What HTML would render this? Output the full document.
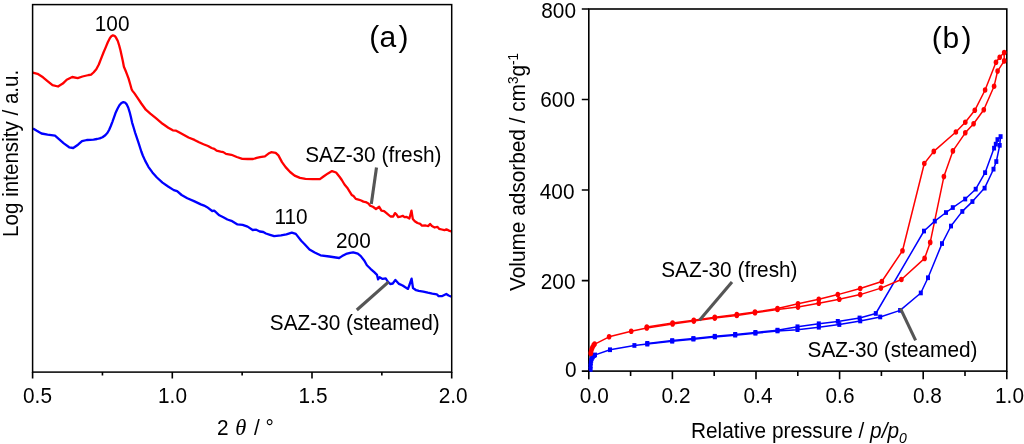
<!DOCTYPE html>
<html><head><meta charset="utf-8"><style>
html,body{margin:0;padding:0;background:#fff;}
svg{display:block;will-change:transform;}
text{font-family:"Liberation Sans",sans-serif;fill:#000;}
</style></head><body>
<svg width="1024" height="444" viewBox="0 0 1024 444">
<rect width="1024" height="444" fill="#fff"/>
<!-- plot a -->
<polyline points="32.8,72.6 37.5,73.8 43.0,77.3 47.8,81.3 52.5,85.2 58.0,86.5 62.8,83.6 66.7,79.7 72.2,77.0 77.7,78.1 82.5,76.5 88.8,75.0 91.1,74.6 93.5,72.5 96.3,69.2 98.8,64.5 101.0,58.9 103.5,52.5 105.8,47.1 107.8,42.2 109.7,38.4 111.3,36.2 112.9,35.4 114.5,35.8 116.0,37.6 117.8,41.0 119.2,45.5 120.4,50.0 121.5,55.0 122.8,61.0 123.9,66.8 125.5,70.5 127.0,74.3 128.6,78.6 130.3,84.5 131.6,89.2 132.3,90.6 134.5,93.4 137.9,98.4 141.3,103.5 145.8,109.7 150.3,113.6 155.9,118.1 162.6,123.8 168.3,127.7 172.8,130.3 176.1,130.7 179.5,132.5 184.0,135.0 188.5,137.5 194.5,139.9 199.0,142.2 203.5,144.2 208.0,146.0 211.6,148.0 214.3,148.9 216.6,150.7 220.6,151.6 223.3,152.1 226.0,153.9 231.4,154.8 236.8,157.0 242.3,158.8 247.7,159.0 253.1,159.0 256.7,157.9 260.0,157.2 264.9,156.3 268.5,153.6 271.2,152.2 275.7,152.9 278.4,155.4 282.0,162.1 285.6,167.1 290.1,172.0 294.6,175.6 300.0,177.9 305.5,178.8 312.7,179.2 319.9,179.1 323.5,176.5 328.0,173.4 332.0,171.1 336.1,172.5 339.7,177.0 341.8,180.0 344.5,184.5 347.2,187.7 349.5,191.3 351.7,194.9 353.5,196.0 355.8,198.9 358.5,199.6 361.2,200.5 363.4,201.6 365.7,202.1 368.4,203.6 370.2,205.7 372.9,206.8 376.0,209.0 379.2,206.8 381.4,210.6 384.1,211.1 386.8,213.3 390.5,216.5 393.2,216.5 395.0,213.1 396.4,214.4 398.2,217.1 400.4,216.7 402.7,215.8 404.5,217.1 406.7,216.9 409.4,218.5 411.5,210.6 412.8,218.9 414.8,221.2 417.5,223.0 420.2,223.9 422.0,225.7 425.6,225.5 428.3,226.1 430.1,223.9 431.9,226.1 434.6,227.5 437.3,226.8 439.1,228.8 441.8,229.5 444.5,230.2 446.4,229.3 449.0,230.6 451.3,231.5" fill="none" stroke="#ff0000" stroke-width="2.3" stroke-linejoin="round"/>
<polyline points="33.0,128.5 36.8,130.8 41.5,133.5 47.6,134.6 55.0,135.7 58.4,138.6 63.8,143.4 69.2,147.3 73.2,148.0 78.0,144.7 82.0,141.1 86.8,140.0 93.5,139.6 97.0,139.0 99.7,138.4 102.5,137.2 105.3,135.2 107.5,132.8 109.2,129.7 110.8,126.0 112.4,121.8 114.0,117.3 115.5,113.1 117.5,108.8 119.4,105.3 121.4,103.0 123.4,102.1 125.0,102.5 126.5,104.1 128.2,107.5 129.7,112.3 131.0,117.5 132.1,122.6 133.6,127.5 135.2,132.8 138.4,142.3 141.3,151.5 142.8,155.5 145.1,160.6 148.4,166.8 152.4,172.4 156.9,177.5 162.5,182.6 168.1,186.5 173.8,190.1 177.1,191.2 181.6,195.0 187.3,198.3 194.0,201.1 200.8,204.4 204.1,205.6 207.1,207.2 212.2,211.0 214.2,210.7 219.3,215.3 223.3,217.3 227.4,219.5 231.4,220.8 237.5,224.4 242.6,224.9 247.6,226.6 252.7,230.0 256.2,229.7 259.8,231.5 263.3,232.0 265.9,233.5 270.0,234.8 274.2,236.2 281.0,235.3 286.4,234.3 291.8,232.6 295.8,233.9 301.2,240.7 304.4,244.0 309.5,249.6 314.7,252.5 320.5,255.3 329.3,256.5 339.1,258.0 342.1,256.1 346.1,253.9 350.2,252.9 353.2,252.3 357.8,253.6 360.8,256.1 364.4,260.7 366.9,265.3 370.5,268.8 374.5,272.4 377.0,274.9 378.1,279.4 379.6,277.2 382.6,278.9 385.7,278.4 387.7,281.5 390.2,284.0 392.8,283.5 395.4,279.9 399.0,283.9 402.6,285.5 405.3,287.3 408.0,288.9 409.6,284.5 411.6,278.7 413.0,288.0 416.1,290.2 418.8,290.9 423.3,291.6 427.8,292.7 432.3,293.6 436.8,294.3 438.6,296.1 442.3,296.1 446.3,294.0 448.6,295.5 451.5,296.7" fill="none" stroke="#0000ff" stroke-width="2.3" stroke-linejoin="round"/>
<rect x="32.6" y="4.6" width="419.1" height="367.5" fill="none" stroke="#000" stroke-width="1.5"/>
<!-- plot b data -->
<rect x="588.8" y="9.0" width="418.0" height="362.1" fill="none" stroke="#000" stroke-width="1.6"/>
<g fill="none" stroke-width="1.5" stroke-linejoin="round">
<polyline points="590.0,371.0 590.3,364.0 590.8,360.0 591.6,357.5 593.8,355.4 610.0,349.8 634.4,345.5 647.3,344.1 672.2,341.3 693.4,339.2 714.8,337.0 735.2,335.2 755.4,333.3 777.5,331.0 797.5,329.7 818.8,327.3 839.3,324.6 860.2,321.0 880.2,317.0 900.1,310.4 920.8,293.0 928.0,277.8 942.0,243.6 951.0,226.0 962.3,211.4 972.4,201.6 984.6,188.1 993.5,169.2 996.3,161.6 999.7,145.3 1000.6,136.6" stroke="#0000ff"/>
<polyline points="1000.6,136.6 997.5,139.6 995.8,144.1 994.1,148.1 985.1,172.7 975.7,189.2 965.2,199.0 952.8,207.6 946.0,212.5 934.8,221.1 924.0,231.0 875.8,313.5 859.6,318.0 837.8,321.4 818.8,323.8 797.5,326.8 777.5,330.2 755.4,332.4 735.2,334.4 714.8,336.3 693.4,338.5 672.2,340.6 647.3,343.4" stroke="#0000ff"/>
<polyline points="590.2,356.0 590.8,351.5 592.0,347.5 593.4,344.8 609.1,336.8 631.2,331.3 646.8,327.9 672.6,323.9 693.8,321.1 714.8,318.1 736.8,315.5 755.0,312.8 777.5,309.5 798.0,307.1 818.8,303.3 839.3,299.3 860.2,294.6 880.9,288.1 901.4,279.5 924.6,258.4 930.2,242.4 943.9,176.6 952.9,150.9 965.3,132.8 973.6,123.8 983.8,109.8 994.1,86.2 997.6,71.1 1004.2,60.9 1004.2,52.6" stroke="#ff0000"/>
<polyline points="1004.2,52.6 999.7,57.3 996.0,62.3 985.1,90.0 974.8,110.3 965.3,122.2 955.9,132.0 933.8,151.4 924.3,163.5 902.5,250.7 881.8,281.5 860.2,288.5 837.8,294.6 818.8,299.2 798.0,303.7 777.5,308.6 755.0,312.0 736.8,314.6 714.8,317.3 693.8,320.3 672.6,323.0 646.8,327.0" stroke="#ff0000"/>
</g>
<g fill="#0000ff"><rect x="588.6" y="367.1" width="4.0" height="4.7"/><rect x="588.6" y="363.6" width="4.0" height="4.7"/><rect x="588.8" y="360.6" width="4.0" height="4.7"/><rect x="589.2" y="358.1" width="4.0" height="4.7"/><rect x="589.8" y="356.1" width="4.0" height="4.7"/><rect x="590.8" y="354.6" width="4.0" height="4.7"/><rect x="592.0" y="353.2" width="4.0" height="4.7"/><rect x="593.0" y="352.6" width="4.0" height="4.7"/><rect x="608.0" y="347.4" width="4.0" height="4.7"/><rect x="632.4" y="343.1" width="4.0" height="4.7"/><rect x="645.3" y="341.8" width="4.0" height="4.7"/><rect x="670.2" y="338.9" width="4.0" height="4.7"/><rect x="691.4" y="336.8" width="4.0" height="4.7"/><rect x="712.8" y="334.6" width="4.0" height="4.7"/><rect x="733.2" y="332.8" width="4.0" height="4.7"/><rect x="753.4" y="330.9" width="4.0" height="4.7"/><rect x="775.5" y="328.6" width="4.0" height="4.7"/><rect x="795.5" y="327.3" width="4.0" height="4.7"/><rect x="816.8" y="324.9" width="4.0" height="4.7"/><rect x="837.3" y="322.2" width="4.0" height="4.7"/><rect x="858.2" y="318.6" width="4.0" height="4.7"/><rect x="878.2" y="314.6" width="4.0" height="4.7"/><rect x="898.1" y="308.0" width="4.0" height="4.7"/><rect x="918.8" y="290.6" width="4.0" height="4.7"/><rect x="926.0" y="275.4" width="4.0" height="4.7"/><rect x="940.0" y="241.2" width="4.0" height="4.7"/><rect x="949.0" y="223.7" width="4.0" height="4.7"/><rect x="960.3" y="209.1" width="4.0" height="4.7"/><rect x="970.4" y="199.2" width="4.0" height="4.7"/><rect x="982.6" y="185.8" width="4.0" height="4.7"/><rect x="991.5" y="166.8" width="4.0" height="4.7"/><rect x="994.3" y="159.2" width="4.0" height="4.7"/><rect x="997.7" y="143.0" width="4.0" height="4.7"/><rect x="998.6" y="134.2" width="4.0" height="4.7"/><rect x="995.5" y="137.2" width="4.0" height="4.7"/><rect x="993.8" y="141.8" width="4.0" height="4.7"/><rect x="992.1" y="145.8" width="4.0" height="4.7"/><rect x="983.1" y="170.3" width="4.0" height="4.7"/><rect x="973.7" y="186.8" width="4.0" height="4.7"/><rect x="963.2" y="196.7" width="4.0" height="4.7"/><rect x="950.8" y="205.2" width="4.0" height="4.7"/><rect x="944.0" y="210.2" width="4.0" height="4.7"/><rect x="932.8" y="218.8" width="4.0" height="4.7"/><rect x="922.0" y="228.7" width="4.0" height="4.7"/><rect x="873.8" y="311.1" width="4.0" height="4.7"/><rect x="857.6" y="315.6" width="4.0" height="4.7"/><rect x="835.8" y="319.0" width="4.0" height="4.7"/><rect x="816.8" y="321.4" width="4.0" height="4.7"/><rect x="795.5" y="324.4" width="4.0" height="4.7"/><rect x="775.5" y="327.8" width="4.0" height="4.7"/><rect x="753.4" y="330.0" width="4.0" height="4.7"/><rect x="733.2" y="332.0" width="4.0" height="4.7"/><rect x="712.8" y="333.9" width="4.0" height="4.7"/><rect x="691.4" y="336.1" width="4.0" height="4.7"/><rect x="670.2" y="338.2" width="4.0" height="4.7"/><rect x="645.3" y="341.0" width="4.0" height="4.7"/></g>
<g fill="#ff0000"><ellipse cx="590.8" cy="353.5" rx="2.3" ry="2.8"/><ellipse cx="591.0" cy="352.0" rx="2.3" ry="2.8"/><ellipse cx="591.6" cy="349.5" rx="2.3" ry="2.8"/><ellipse cx="592.4" cy="347.5" rx="2.3" ry="2.8"/><ellipse cx="593.6" cy="345.3" rx="2.3" ry="2.8"/><ellipse cx="594.6" cy="344.0" rx="2.3" ry="2.8"/><ellipse cx="609.1" cy="336.8" rx="2.3" ry="2.8"/><ellipse cx="631.2" cy="331.3" rx="2.3" ry="2.8"/><ellipse cx="646.8" cy="327.9" rx="2.3" ry="2.8"/><ellipse cx="672.6" cy="323.9" rx="2.3" ry="2.8"/><ellipse cx="693.8" cy="321.1" rx="2.3" ry="2.8"/><ellipse cx="714.8" cy="318.1" rx="2.3" ry="2.8"/><ellipse cx="736.8" cy="315.5" rx="2.3" ry="2.8"/><ellipse cx="755.0" cy="312.8" rx="2.3" ry="2.8"/><ellipse cx="777.5" cy="309.5" rx="2.3" ry="2.8"/><ellipse cx="798.0" cy="307.1" rx="2.3" ry="2.8"/><ellipse cx="818.8" cy="303.3" rx="2.3" ry="2.8"/><ellipse cx="839.3" cy="299.3" rx="2.3" ry="2.8"/><ellipse cx="860.2" cy="294.6" rx="2.3" ry="2.8"/><ellipse cx="880.9" cy="288.1" rx="2.3" ry="2.8"/><ellipse cx="901.4" cy="279.5" rx="2.3" ry="2.8"/><ellipse cx="924.6" cy="258.4" rx="2.3" ry="2.8"/><ellipse cx="930.2" cy="242.4" rx="2.3" ry="2.8"/><ellipse cx="943.9" cy="176.6" rx="2.3" ry="2.8"/><ellipse cx="952.9" cy="150.9" rx="2.3" ry="2.8"/><ellipse cx="965.3" cy="132.8" rx="2.3" ry="2.8"/><ellipse cx="973.6" cy="123.8" rx="2.3" ry="2.8"/><ellipse cx="983.8" cy="109.8" rx="2.3" ry="2.8"/><ellipse cx="994.1" cy="86.2" rx="2.3" ry="2.8"/><ellipse cx="997.6" cy="71.1" rx="2.3" ry="2.8"/><ellipse cx="1004.2" cy="60.9" rx="2.3" ry="2.8"/><ellipse cx="1004.2" cy="52.6" rx="2.3" ry="2.8"/><ellipse cx="999.7" cy="57.3" rx="2.3" ry="2.8"/><ellipse cx="996.0" cy="62.3" rx="2.3" ry="2.8"/><ellipse cx="985.1" cy="90.0" rx="2.3" ry="2.8"/><ellipse cx="974.8" cy="110.3" rx="2.3" ry="2.8"/><ellipse cx="965.3" cy="122.2" rx="2.3" ry="2.8"/><ellipse cx="955.9" cy="132.0" rx="2.3" ry="2.8"/><ellipse cx="933.8" cy="151.4" rx="2.3" ry="2.8"/><ellipse cx="924.3" cy="163.5" rx="2.3" ry="2.8"/><ellipse cx="902.5" cy="250.7" rx="2.3" ry="2.8"/><ellipse cx="881.8" cy="281.5" rx="2.3" ry="2.8"/><ellipse cx="860.2" cy="288.5" rx="2.3" ry="2.8"/><ellipse cx="837.8" cy="294.6" rx="2.3" ry="2.8"/><ellipse cx="818.8" cy="299.2" rx="2.3" ry="2.8"/><ellipse cx="798.0" cy="303.7" rx="2.3" ry="2.8"/><ellipse cx="777.5" cy="308.6" rx="2.3" ry="2.8"/><ellipse cx="755.0" cy="312.0" rx="2.3" ry="2.8"/><ellipse cx="736.8" cy="314.6" rx="2.3" ry="2.8"/><ellipse cx="714.8" cy="317.3" rx="2.3" ry="2.8"/><ellipse cx="693.8" cy="320.3" rx="2.3" ry="2.8"/><ellipse cx="672.6" cy="323.0" rx="2.3" ry="2.8"/><ellipse cx="646.8" cy="327.0" rx="2.3" ry="2.8"/></g>
<path d="M32.60,372.1 V378.6 M102.45,372.1 V375.6 M172.30,372.1 V378.6 M242.15,372.1 V375.6 M312.00,372.1 V378.6 M381.85,372.1 V375.6 M451.70,372.1 V378.6 M588.80,371.1 V379.3 M630.60,371.1 V375.90000000000003 M672.40,371.1 V379.3 M714.20,371.1 V375.90000000000003 M756.00,371.1 V379.3 M797.80,371.1 V375.90000000000003 M839.60,371.1 V379.3 M881.40,371.1 V375.90000000000003 M923.20,371.1 V379.3 M965.00,371.1 V375.90000000000003 M1006.80,371.1 V379.3 M588.8,371.10 H581.8 M588.8,280.58 H581.8 M588.8,190.05 H581.8 M588.8,99.52 H581.8 M588.8,9.00 H581.8" stroke="#000" stroke-width="1.6" fill="none"/>
<!-- leaders -->
<g stroke="#555" stroke-width="3.1" fill="none">
<line x1="376.5" y1="167.5" x2="371.3" y2="204"/>
<line x1="388.6" y1="281.8" x2="356.8" y2="310"/>
<line x1="732" y1="282.1" x2="699.5" y2="320.3"/>
<line x1="900.4" y1="308.4" x2="915.6" y2="340.4"/>
</g>
<!-- texts -->
<text transform="translate(94.8,31.0) scale(1,1.07)" font-size="20.8">100</text>
<text transform="translate(274.5,224.3) scale(1,1.07)" font-size="20.8">110</text>
<text transform="translate(336,248) scale(1,1.07)" font-size="20.8">200</text>
<text transform="translate(37.5,403.3) scale(1,1.07)" font-size="20.8" text-anchor="middle">0.5</text>
<text transform="translate(172.5,403.3) scale(1,1.07)" font-size="20.8" text-anchor="middle">1.0</text>
<text transform="translate(313,403.3) scale(1,1.07)" font-size="20.8" text-anchor="middle">1.5</text>
<text transform="translate(453.2,403.3) scale(1,1.07)" font-size="20.8" text-anchor="middle">2.0</text>
<text transform="translate(217,434.6) scale(1,1.07)" font-size="20.8">2</text>
<text transform="translate(235.2,434.6) scale(1,1.0)" font-size="22.5"><tspan font-family="Liberation Serif" font-style="italic">θ</tspan></text>
<text transform="translate(253.9,434.6) scale(1,1.07)" font-size="20.8">/ °</text>
<text transform="translate(305.2,161.7) scale(1,1.07)" font-size="20.8">SAZ-30 (fresh)</text>
<text transform="translate(269.8,330) scale(1,1.07)" font-size="20.8">SAZ-30 (steamed)</text>
<text transform="translate(661.2,276.7) scale(1,1.07)" font-size="20.8">SAZ-30 (fresh)</text>
<text transform="translate(807.6,357) scale(1,1.07)" font-size="20.8">SAZ-30 (steamed)</text>
<text transform="translate(18,236.9) rotate(-90) scale(1,1.07)" font-size="20.6">Log intensity / a.u.</text>
<text transform="translate(525.3,291) rotate(-90) scale(1,1.04)" font-size="20.8">Volume adsorbed / cm<tspan dy="-7" font-size="13.5">3</tspan><tspan dy="7">g</tspan><tspan dy="-7" font-size="13.5">-1</tspan></text>
<text transform="translate(691,437.5) scale(1,1.07)" font-size="20.8">Relative pressure / <tspan font-style="italic">p/p</tspan><tspan font-style="italic" font-size="14" dy="5">0</tspan></text>
<text transform="translate(369.3,47.4) scale(1,1.0)" font-size="30">(<tspan dx="0.3">a</tspan><tspan dx="2.2">)</tspan></text>
<text transform="translate(931.8,47.7) scale(1,1.0)" font-size="30">(<tspan dx="0.6">b</tspan><tspan dx="2.4">)</tspan></text>
<text transform="translate(576,18.2) scale(1,1.07)" font-size="20.8" text-anchor="end">800</text>
<text transform="translate(575,107) scale(1,1.07)" font-size="20.8" text-anchor="end">600</text>
<text transform="translate(574.5,199) scale(1,1.07)" font-size="20.8" text-anchor="end">400</text>
<text transform="translate(575.5,289.3) scale(1,1.07)" font-size="20.8" text-anchor="end">200</text>
<text transform="translate(576.5,376.6) scale(1,1.07)" font-size="20.8" text-anchor="end">0</text>
<text transform="translate(594.3,402.6) scale(1,1.07)" font-size="20.8" text-anchor="middle">0.0</text>
<text transform="translate(676,402.6) scale(1,1.07)" font-size="20.8" text-anchor="middle">0.2</text>
<text transform="translate(758,402.6) scale(1,1.07)" font-size="20.8" text-anchor="middle">0.4</text>
<text transform="translate(840,402.6) scale(1,1.07)" font-size="20.8" text-anchor="middle">0.6</text>
<text transform="translate(927.4,402.6) scale(1,1.07)" font-size="20.8" text-anchor="middle">0.8</text>
<text transform="translate(1009.5,402.6) scale(1,1.07)" font-size="20.8" text-anchor="middle">1.0</text>
</svg>
</body></html>
